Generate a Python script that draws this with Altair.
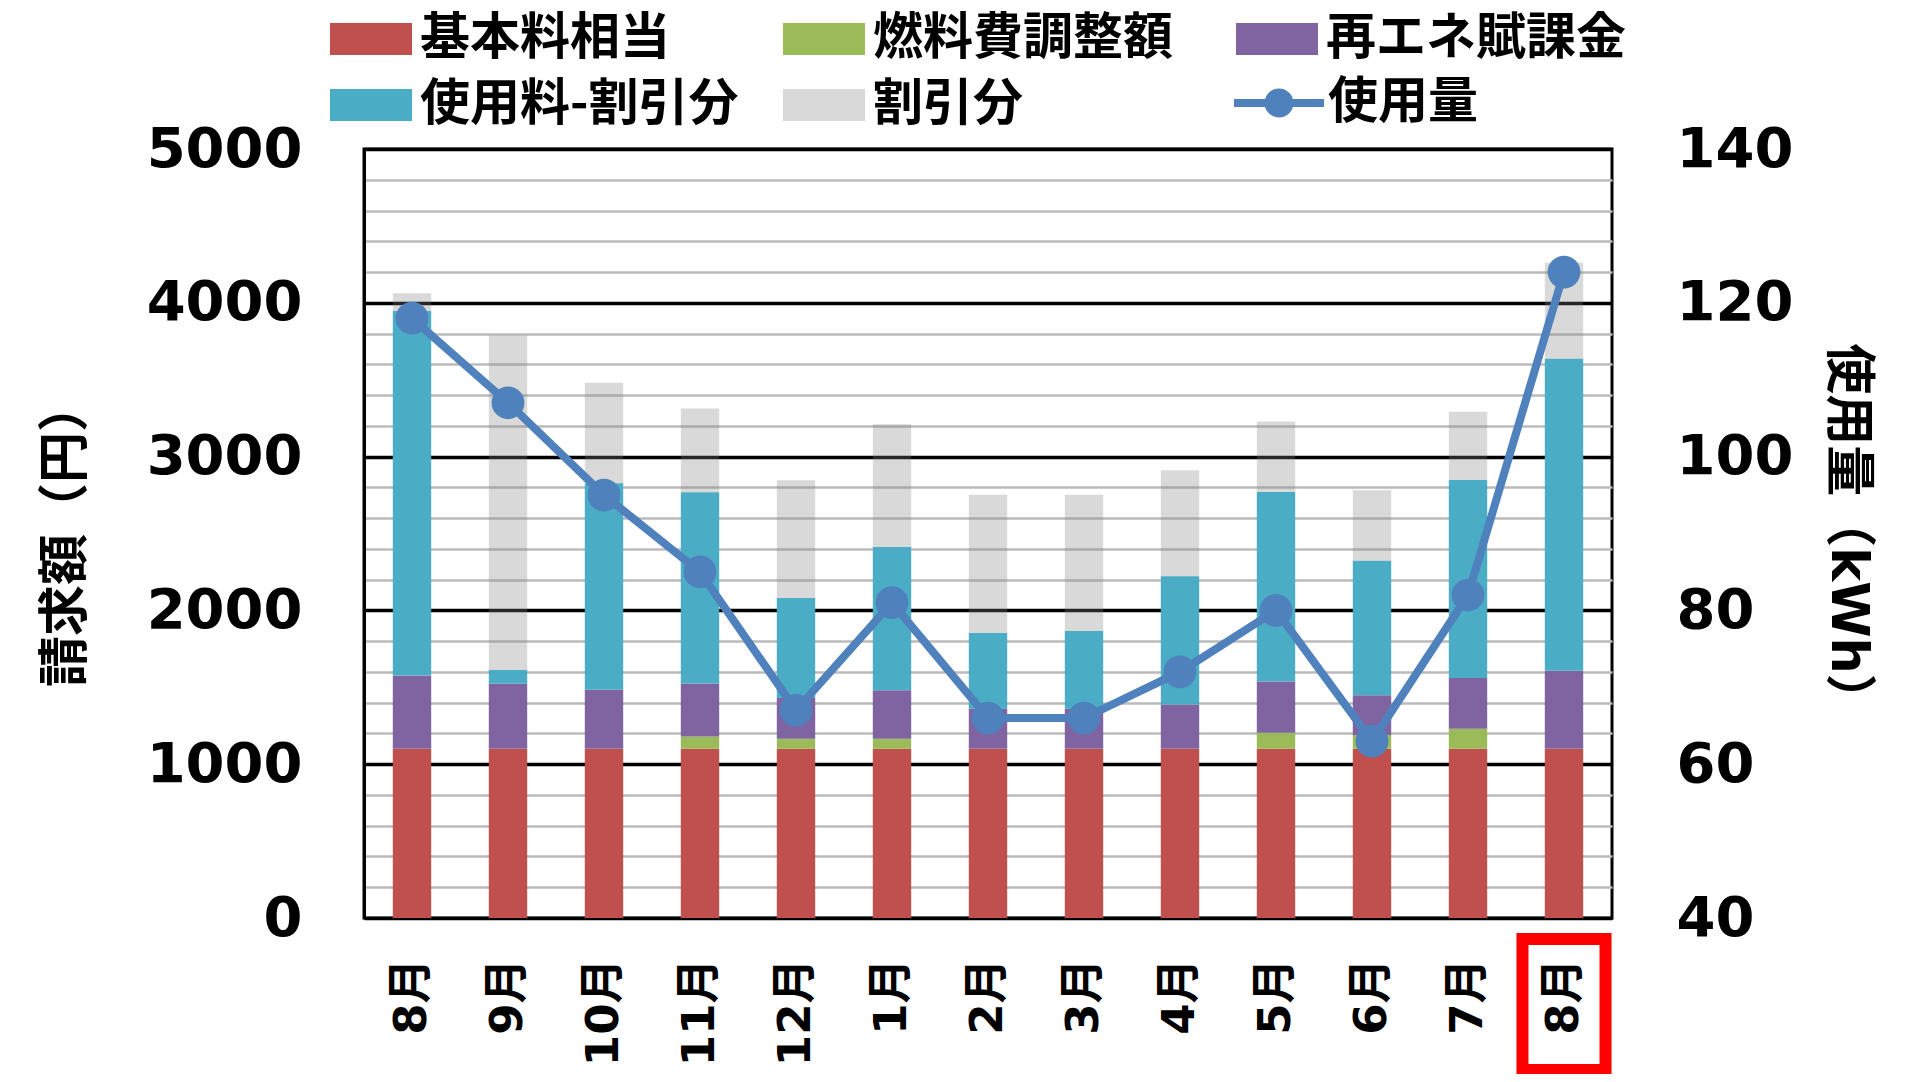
import altair as alt
import pandas as pd

# ---- data ----
months = ["8月", "9月", "10月", "11月", "12月", "1月", "2月", "3月", "4月", "5月", "6月", "7月", "8月"]
components = ["基本料相当", "燃料費調整額", "再エネ賦課金", "使用料-割引分", "割引分"]
comp_colors = ["#C0504D", "#9BBB59", "#8064A2", "#4BACC6", "#D9D9D9"]

base_fee = [1100, 1100, 1100, 1100, 1100, 1100, 1100, 1100, 1100, 1100, 1100, 1100, 1100]
fuel_adj = [0, 0, 0, 80, 65, 65, 0, 0, 0, 105, 90, 130, 0]
renewable = [477, 423, 384, 344, 266, 316, 260, 260, 288, 333, 259, 330, 508]
usage_net = [2370, 90, 1343, 1245, 650, 931, 493, 506, 834, 1232, 874, 1288, 2029]
discount = [115, 2174, 653, 544, 766, 798, 899, 886, 690, 459, 458, 444, 623]
usage_kwh = [118, 107, 95, 85, 67, 81, 66, 66, 72, 80, 63, 82, 124]
highlight_idx = [12]

yen_ticks = list(range(0, 5001, 200))
kwh_ticks = [40, 60, 80, 100, 120, 140]

# ---- tables ----
series = [base_fee, fuel_adj, renewable, usage_net]
rows = []
for i in range(len(months)):
    for k, arr in enumerate(series):
        rows.append({"idx": i, "comp": components[k], "ord": k, "value": arr[i]})
bars_df = pd.DataFrame(rows)

gray_rows = []
for i in range(len(months)):
    lo = base_fee[i] + fuel_adj[i] + renewable[i] + usage_net[i]
    gray_rows.append({"idx": i, "lo": lo, "hi": lo + discount[i]})
gray_df = pd.DataFrame(gray_rows)

line_df = pd.DataFrame({"idx": list(range(len(months))), "kwh": usage_kwh,
                        "series": ["使用量"] * len(months)})
box_df = pd.DataFrame({"idx": highlight_idx})

label_expr = "[" + ",".join("'%s'" % m for m in months) + "][datum.value]"

NUM_FONT = "DejaVu Sans, Noto Sans CJK JP"
JP_FONT = "Noto Sans CJK JP"

x_enc = alt.X(
    "idx:O",
    scale=alt.Scale(paddingInner=0, paddingOuter=0),
    axis=alt.Axis(
        title=None, labelExpr=label_expr, labelAngle=270, labelPadding=40,
        labelFont=NUM_FONT, labelFontSize=45, labelFontWeight="bold",
        labelOverlap=False, grid=False, ticks=False, domainColor="black", domainWidth=3,
    ),
)

left_axis = alt.Axis(
    values=yen_ticks, format="d",
    labelExpr="datum.value % 1000 === 0 ? datum.label : ''",
    grid=True,
    gridColor={"condition": {"test": "datum.value % 1000 === 0", "value": "#000000"}, "value": "#BBBBBB"},
    gridWidth={"condition": {"test": "datum.value % 1000 === 0", "value": 3.5}, "value": 2.5},
    ticks=False, domainColor="black", domainWidth=3,
    labelFont=NUM_FONT, labelFontSize=56, labelFontWeight="bold", labelPadding=62,
    labelOverlap=False,
    title="請求額（円）", titleFont=JP_FONT, titleFontSize=51, titleFontWeight="bold",
    titlePadding=72,
)
y_scale_left = alt.Scale(domain=[0, 5000], nice=False)

rect_path = "M-1,-0.39H1V0.39H-1Z"
line_path = "M-1,0H1M0.233,0A0.233,0.233,0,1,1,-0.233,0A0.233,0.233,0,1,1,0.233,0Z"

bars = alt.Chart(bars_df).mark_bar(width=alt.RelativeBandSize(0.4)).encode(
    x=x_enc,
    y=alt.Y("value:Q", stack="zero", scale=y_scale_left, axis=left_axis),
    fill=alt.Fill(
        "comp:N",
        scale=alt.Scale(domain=components, range=comp_colors),
        legend=alt.Legend(
            title=None, orient="none", legendX=-34, legendY=-151, columns=3,
            direction="horizontal",
            gridAlign="all", columnPadding=44, rowPadding=-2, padding=0,
            symbolType=rect_path, symbolSize=6724, symbolStrokeWidth=0,
            labelFont=JP_FONT, labelFontSize=50, labelFontWeight="bold",
            labelColor="black", labelOffset=8, labelLimit=600,
        ),
    ),
    order=alt.Order("ord:Q"),
)

gray = alt.Chart(gray_df).mark_bar(width=alt.RelativeBandSize(0.4), color="#808080", opacity=0.3).encode(
    x=x_enc,
    y=alt.Y("lo:Q", scale=y_scale_left, axis=left_axis),
    y2="hi:Q",
)

box = alt.Chart(box_df).mark_bar(
    width=alt.RelativeBandSize(0.865), filled=False, stroke="#FF0000", strokeWidth=12
).encode(
    x=x_enc,
    y=alt.value(790),
    y2=alt.value(921),
)

right_axis = alt.Axis(
    orient="right", values=kwh_ticks, format="d", grid=False, ticks=False,
    domain=False,
    labelFont=NUM_FONT, labelFontSize=56, labelFontWeight="bold", labelPadding=64,
    title="使用量（kWh）", titleFont=NUM_FONT, titleFontSize=51, titleFontWeight="bold",
    titlePadding=28,
)
y_scale_right = alt.Scale(domain=[40, 140], nice=False)

line = alt.Chart(line_df).mark_line(color="#4F81BD", strokeWidth=8).encode(
    x=x_enc,
    y=alt.Y("kwh:Q", scale=y_scale_right, axis=right_axis),
)

points = alt.Chart(line_df).mark_point(filled=True, size=1075, opacity=1).encode(
    x=x_enc,
    y=alt.Y("kwh:Q", scale=y_scale_right, axis=right_axis),
    color=alt.Color(
        "series:N",
        scale=alt.Scale(domain=["使用量"], range=["#4F81BD"]),
        legend=alt.Legend(
            title=None, orient="none", legendX=866, legendY=-95, padding=0,
            symbolType=line_path, symbolSize=8100, symbolStrokeWidth=8,
            symbolStrokeColor="#4F81BD",
            labelFont=JP_FONT, labelFontSize=50, labelFontWeight="bold",
            labelColor="black", labelOffset=0, labelLimit=600,
        ),
    ),
)

left = alt.layer(bars, gray, box)
right = alt.layer(line, points)

chart = (
    alt.layer(left, right)
    .resolve_scale(y="independent")
    .properties(
        width=1248, height=769,
        autosize=alt.AutoSizeParams(type="none"),
        padding={"left": 356, "top": 141, "right": 300, "bottom": 156},
        background="white",
    )
    .configure_view(stroke="black", strokeWidth=3)
    .configure_axis(labelColor="black", titleColor="black")
)

chart.save("out.html", embed_options={"renderer": "svg", "actions": False})
